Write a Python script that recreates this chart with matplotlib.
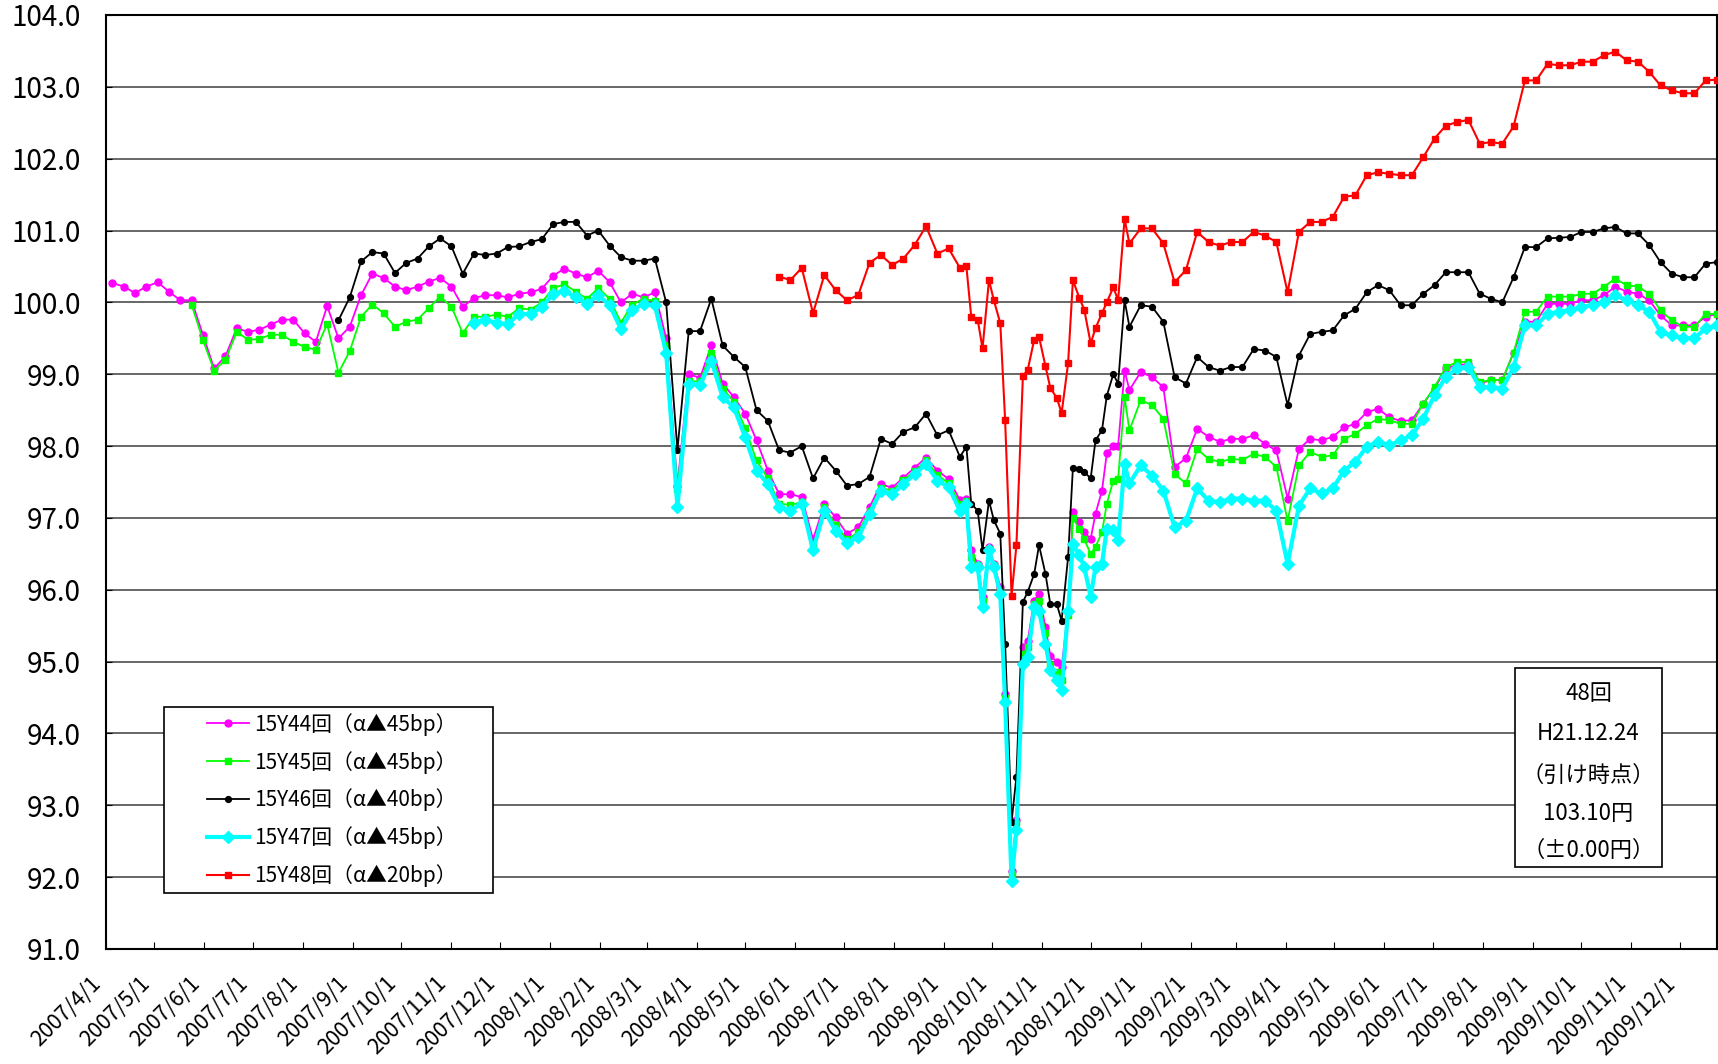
import numpy as np
import pandas as pd
import matplotlib
matplotlib.use('Agg')
import matplotlib.pyplot as plt
import matplotlib.dates as mdates
from matplotlib.ticker import FuncFormatter, MultipleLocator
from matplotlib.transforms import ScaledTranslation
from matplotlib.patches import Rectangle

plt.rcParams['font.family'] = ['Noto Sans CJK JP', 'DejaVu Sans']

nan = np.nan

# weekly readings (Thursdays) plus extra Monday readings during the autumn 2008 turmoil
week_dates = pd.date_range('2007-04-05', periods=143, freq='7D')
mon_dates = pd.date_range('2008-09-15', periods=15, freq='7D')

s44 = [100.27, 100.22, 100.13, 100.22, 100.28, 100.15, 100.03, 100.03, 99.55, 99.08,
       99.25, 99.64, 99.59, 99.62, 99.69, 99.76, 99.76, 99.57, 99.45, 99.95,
       99.5, 99.66, 100.1, 100.4, 100.34, 100.22, 100.17, 100.22, 100.29, 100.34,
       100.22, 99.94, 100.06, 100.1, 100.1, 100.07, 100.12, 100.14, 100.19, 100.37,
       100.47, 100.4, 100.35, 100.44, 100.28, 100.0, 100.12, 100.07, 100.14, 99.5,
       97.45, 99.0, 98.95, 99.4, 98.87, 98.68, 98.45, 98.08, 97.66, 97.33,
       97.33, 97.29, 96.7, 97.19, 97.01, 96.78, 96.87, 97.15, 97.47, 97.42,
       97.56, 97.7, 97.84, 97.66, 97.54, 97.25, 96.55, 95.9, 96.36, 94.55,
       92.8, 95.29, 95.94, 95.08, 94.92, 97.08, 96.8, 97.06, 97.9, 98.0,
       98.78, 99.03, 98.96, 98.82, 97.71, 97.83, 98.24, 98.13, 98.06, 98.1,
       98.1, 98.15, 98.03, 97.94, 97.27, 97.96, 98.1, 98.08, 98.13, 98.26,
       98.31, 98.47, 98.52, 98.4, 98.35, 98.36, 98.59, 98.8, 99.08, 99.13,
       99.14, 98.87, 98.92, 98.92, 99.3, 99.73, 99.73, 99.98, 99.98, 99.98,
       100.03, 100.03, 100.1, 100.22, 100.15, 100.12, 100.03, 99.82, 99.68, 99.68,
       99.68, 99.8, 99.84]
s44_mon = [97.27, 96.36, 96.6, 96.04, 92.09, 95.2, 95.85, 95.48, 95.0, 95.71,
           96.94, 96.71, 97.38, 98.0, 99.05]

s45 = [nan] * 7 + [
       99.97, 99.48, 99.05,
       99.2, 99.59, 99.48, 99.49, 99.55, 99.55, 99.45, 99.38, 99.34, 99.7,
       99.02, 99.32, 99.8, 99.97, 99.85, 99.66, 99.73, 99.76, 99.92, 100.08,
       99.94, 99.57, 99.8, 99.8, 99.83, 99.8, 99.92, 99.9, 100.0, 100.2,
       100.25, 100.15, 100.05, 100.2, 100.05, 99.72, 99.97, 100.05, 100.02, 99.4,
       97.4, 98.9, 98.9, 99.3, 98.8, 98.62, 98.25, 97.8, 97.55, 97.2,
       97.18, 97.22, 96.6, 97.15, 96.9, 96.7, 96.8, 97.1, 97.42, 97.38,
       97.53, 97.65, 97.8, 97.6, 97.48, 97.2, 96.45, 95.85, 96.34, 94.5,
       92.75, 95.2, 95.85, 94.95, 94.75, 97.0, 96.7, 96.6, 97.2, 97.54,
       98.22, 98.64, 98.57, 98.38, 97.61, 97.48, 97.96, 97.82, 97.78, 97.82,
       97.81, 97.89, 97.85, 97.71, 96.96, 97.73, 97.92, 97.85, 97.87, 98.1,
       98.17, 98.29, 98.38, 98.36, 98.31, 98.31, 98.59, 98.82, 99.1, 99.17,
       99.17, 98.89, 98.92, 98.92, 99.3, 99.87, 99.87, 100.08, 100.08, 100.08,
       100.12, 100.12, 100.22, 100.33, 100.24, 100.22, 100.12, 99.89, 99.75, 99.66,
       99.66, 99.84, 99.84]
s45_mon = [97.23, 96.34, 96.57, 96.0, 92.05, 95.1, 95.8, 95.4, 94.85, 95.65,
           96.85, 96.5, 96.8, 97.52, 98.68]

s46 = [nan] * 20 + [
       99.75, 100.07, 100.57, 100.7, 100.68, 100.41, 100.55, 100.61, 100.78, 100.89,
       100.78, 100.4, 100.68, 100.66, 100.68, 100.77, 100.78, 100.84, 100.88, 101.09,
       101.12, 101.12, 100.93, 101.0, 100.79, 100.63, 100.58, 100.58, 100.61, 100.0,
       97.95, 99.6, 99.6, 100.05, 99.4, 99.24, 99.1, 98.5, 98.35, 97.94,
       97.91, 98.0, 97.55, 97.84, 97.66, 97.45, 97.47, 97.57, 98.1, 98.03,
       98.2, 98.26, 98.45, 98.15, 98.22, 97.85, 97.2, 96.55, 96.97, 95.25,
       93.4, 95.97, 96.62, 95.8, 95.57, 97.7, 97.64, 98.08, 98.7, 98.87,
       99.66, 99.96, 99.94, 99.73, 98.96, 98.87, 99.24, 99.1, 99.05, 99.1,
       99.1, 99.35, 99.33, 99.24, 98.57, 99.26, 99.56, 99.59, 99.61, 99.82,
       99.91, 100.14, 100.24, 100.17, 99.96, 99.96, 100.12, 100.24, 100.42, 100.42,
       100.42, 100.12, 100.05, 100.0, 100.35, 100.77, 100.77, 100.89, 100.9, 100.91,
       100.98, 100.98, 101.03, 101.05, 100.96, 100.96, 100.8, 100.56, 100.4, 100.35,
       100.35, 100.54, 100.56]
s46_mon = [97.99, 97.1, 97.24, 96.78, 92.77, 95.83, 96.22, 96.22, 95.8, 96.45,
           97.68, 97.55, 98.22, 99.0, 100.03]

s47 = [nan] * 32 + [
       99.72, 99.76, 99.71, 99.7, 99.84, 99.84, 99.93, 100.12,
       100.16, 100.07, 99.98, 100.1, 99.96, 99.63, 99.89, 99.98, 99.96, 99.3,
       97.15, 98.87, 98.85, 99.19, 98.68, 98.54, 98.12, 97.66, 97.47, 97.15,
       97.1, 97.2, 96.55, 97.1, 96.82, 96.65, 96.73, 97.05, 97.38, 97.33,
       97.47, 97.61, 97.75, 97.52, 97.43, 97.1, 96.32, 95.76, 96.32, 94.44,
       92.65, 95.06, 95.71, 94.88, 94.6, 96.64, 96.32, 96.32, 96.85, 96.69,
       97.48, 97.73, 97.59, 97.38, 96.87, 96.96, 97.41, 97.24, 97.22, 97.27,
       97.27, 97.24, 97.24, 97.1, 96.36, 97.17, 97.41, 97.34, 97.41, 97.66,
       97.78, 97.99, 98.06, 98.01, 98.08, 98.15, 98.38, 98.71, 98.96, 99.08,
       99.1, 98.82, 98.82, 98.8, 99.1, 99.68, 99.68, 99.84, 99.87, 99.89,
       99.94, 99.96, 100.0, 100.1, 100.03, 99.96, 99.87, 99.59, 99.54, 99.5,
       99.5, 99.64, 99.68]
s47_mon = [97.19, 96.32, 96.55, 95.94, 91.95, 94.97, 95.76, 95.25, 94.74, 95.71,
           96.48, 95.9, 96.36, 96.83, 97.75]

s48 = [nan] * 59 + [
       100.36,
       100.31, 100.48, 99.85, 100.38, 100.17, 100.03, 100.1, 100.55, 100.66, 100.52,
       100.61, 100.8, 101.06, 100.68, 100.75, 100.48, 99.8, 99.36, 100.03, 98.36,
       96.62, 99.06, 99.52, 98.81, 98.46, 100.31, 99.9, 99.64, 100.0, 100.03,
       100.82, 101.03, 101.03, 100.82, 100.28, 100.45, 100.98, 100.84, 100.79, 100.84,
       100.84, 100.98, 100.93, 100.84, 100.14, 100.98, 101.12, 101.12, 101.19, 101.47,
       101.49, 101.77, 101.81, 101.79, 101.77, 101.77, 102.02, 102.28, 102.46, 102.51,
       102.54, 102.21, 102.23, 102.21, 102.45, 103.09, 103.09, 103.32, 103.3, 103.3,
       103.35, 103.35, 103.44, 103.49, 103.37, 103.35, 103.21, 103.02, 102.95, 102.91,
       102.91, 103.09, 103.10]
s48_mon = [100.5, 99.76, 100.31, 99.71, 95.92, 98.97, 99.48, 99.11, 98.67, 99.15,
           100.06, 99.43, 99.85, 100.21, 101.16]

labels = ['15Y44回（α▲45bp）', '15Y45回（α▲45bp）', '15Y46回（α▲40bp）',
          '15Y47回（α▲45bp）', '15Y48回（α▲20bp）']
colors = ['#FF00FF', '#00FF00', '#000000', '#00FFFF', '#FF0000']
markers = ['o', 's', 'o', 'D', 's']
msizes = [5, 4.6, 4.2, 6, 4.6]
lwidths = [1.3, 1.3, 1.3, 3.0, 1.5]

box_lines = ['48回', 'H21.12.24', '（引け時点）', '103.10円', '（±0.00円）']

W, H = 1718, 1064
fig = plt.figure(figsize=(W / 100, H / 100), dpi=100)
ax = fig.add_axes([106 / W, 1 - 949 / H, (1717 - 106) / W, (949 - 15) / H])

all_dates = week_dates.append(mon_dates)
order = np.argsort(all_dates.values)
series = [(s44, s44_mon), (s45, s45_mon), (s46, s46_mon), (s47, s47_mon), (s48, s48_mon)]
handles = []
for (wk, mo), lab, c, mk, ms, lw in zip(series, labels, colors, markers, msizes, lwidths):
    y = np.r_[np.array(wk, dtype=float), np.array(mo, dtype=float)][order]
    x = all_dates[order]
    ok = np.isfinite(y)
    h, = ax.plot(x[ok], y[ok], color=c, lw=lw, marker=mk, ms=ms, mfc=c, mec=c,
                 label=lab, zorder=3)
    handles.append(h)

ax.set_ylim(91, 104)
ax.set_xlim(pd.Timestamp('2007-04-01'), pd.Timestamp('2009-12-24'))
ax.yaxis.set_major_locator(MultipleLocator(1))
ax.yaxis.set_major_formatter(FuncFormatter(lambda v, p: f'{v:.1f}'))
ax.xaxis.set_major_locator(mdates.MonthLocator(bymonthday=1))

def datefmt(v, p):
    d = mdates.num2date(v)
    return f'{d.year}/{d.month}/{d.day}'

ax.xaxis.set_major_formatter(FuncFormatter(datefmt))
ax.grid(axis='y', color='#4d4d4d', lw=1.2)
ax.set_axisbelow(True)
for s in ax.spines.values():
    s.set_linewidth(1.5)
    s.set_color('black')

ax.tick_params(axis='y', labelsize=20, direction='in', length=4, pad=18)
ax.tick_params(axis='x', labelsize=15.5, direction='in', length=5, pad=17)
for lab in ax.get_xticklabels():
    lab.set_rotation(45)
    lab.set_ha('right')
    lab.set_va('top')
    lab.set_rotation_mode('anchor')
    lab.set_transform(lab.get_transform() + ScaledTranslation(-0.16, 0, fig.dpi_scale_trans))

# legend box (drawn by hand to get Excel-like padding)
lx0, ly0, lx1, ly1 = 164, 707, 493, 893
ax.add_patch(Rectangle((lx0 / W, 1 - ly1 / H), (lx1 - lx0) / W, (ly1 - ly0) / H,
                       transform=fig.transFigure, facecolor='white', edgecolor='black',
                       lw=1.2, zorder=10, clip_on=False))
leg = ax.legend(handles=handles, loc='center',
                bbox_to_anchor=((lx0 + lx1) / 2 / W + 0.002, 1 - (ly0 + ly1) / 2 / H),
                bbox_transform=fig.transFigure, frameon=False, fontsize=15,
                handlelength=2.0, handletextpad=0.25, labelspacing=0.72, numpoints=1)
leg.set_zorder(11)

# annotation box
bx0, by0, bx1, by1 = 1515, 668, 1662, 867
ax.add_patch(Rectangle((bx0 / W, 1 - by1 / H), (bx1 - bx0) / W, (by1 - by0) / H,
                       transform=fig.transFigure, facecolor='white', edgecolor='black',
                       lw=1.2, zorder=10, clip_on=False))
for t, yy in zip(box_lines, [693, 734, 775, 813, 850]):
    fig.text((bx0 + bx1) / 2 / W, 1 - yy / H, t, ha='center', va='center',
             fontsize=16, zorder=12)

fig.savefig('out.png', dpi=100)
